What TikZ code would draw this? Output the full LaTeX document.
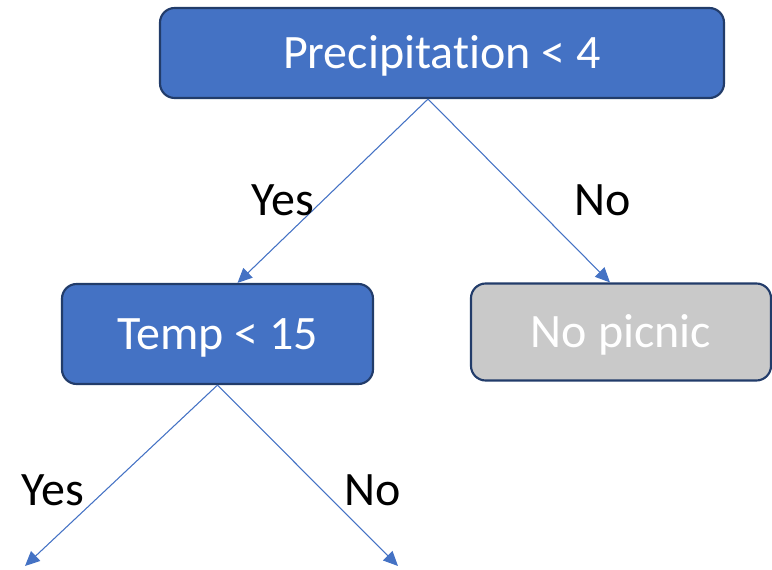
\documentclass[tikz,border=0pt]{standalone}
\usepackage{fontspec}
\setmainfont{Carlito}[Ligatures={NoCommon}]
\usetikzlibrary{arrows.meta,calc}
\definecolor{boxBlue}{HTML}{4472C4}
\definecolor{boxEdge}{HTML}{223C6A}
\definecolor{boxGrey}{HTML}{C9C9C9}
\definecolor{lineBlue}{HTML}{4472C4}

\begin{document}
\begin{tikzpicture}[x=0.75pt,y=-0.75pt,
    every node/.style={font=\fontsize{36}{43}\selectfont},
    decision/.style={draw=boxEdge,line width=1.6pt,rounded corners=11pt,
      fill=boxBlue,text=white,text height=23pt,text depth=0pt},
    leaf/.style={decision,fill=boxGrey},
    branch/.style={lineBlue,line width=0.8pt,-{Triangle[length=11pt,width=10pt]}}]
  \useasboundingbox (0,0) rectangle (772,570);

  % tree boxes
  \node[decision,minimum width=423pt,minimum height=67.5pt] (prec) at (442,53)
    {Precipitation < 4};
  \node[decision,minimum width=233.25pt,minimum height=75pt] (temp) at (217.5,334)
    {Temp < 15};
  \node[leaf,minimum width=225pt,minimum height=72.75pt] (nopic) at (621,332)
    {No picnic};

  % loose ends of the lower branches
  \coordinate (leafyes) at (25,566);
  \coordinate (leafno) at (398,566);

  % branches
  \draw[branch] ($(prec.south)+(-14,0)$) -- ($(temp.north)+(20,0)$);
  \draw[branch] ($(prec.south)+(-14,0)$) -- ($(nopic.north)+(-11,0)$);
  \draw[branch] (temp.south) -- (leafyes);
  \draw[branch] (temp.south) -- (leafno);

  % branch labels
  \node (yestop) at (283,200) {Yes};
  \node (notop) at (603,200) {No};
  \node (yeslow) at (53,490) {Yes};
  \node (nolow) at (373,490) {No};
\end{tikzpicture}
\end{document}
